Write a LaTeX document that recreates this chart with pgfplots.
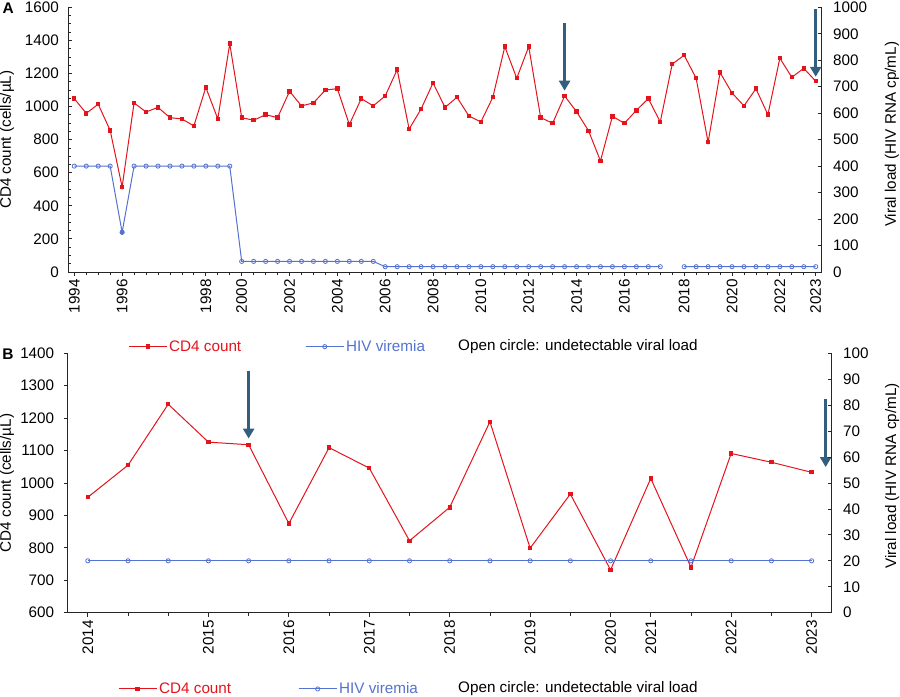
\documentclass[border=0pt]{standalone}
\usepackage{fontspec}
\setmainfont{Liberation Sans}
\usepackage{pgfplots}
\pgfplotsset{compat=1.18}
\usetikzlibrary{arrows.meta}
\definecolor{cd4red}{RGB}{228,20,28}
\definecolor{hivblue}{RGB}{84,114,208}
\definecolor{arrowc}{RGB}{52,94,125}
\newcommand{\fs}{\fontsize{15.3}{18}\selectfont}

\pgfplotsset{
  base/.style={scale only axis, clip=false, font=\fs,
    tick label style={font=\fs},
    /pgf/number format/assume math mode=true,
    /pgf/number format/1000 sep={},
    axis line style={line width=0.9bp, black!85},
    major tick length=4bp, minor tick length=3bp,
    every tick/.style={line width=0.8bp, black!85},
    legend style={draw=none, fill=none, font=\fs, nodes={inner xsep=2bp, inner ysep=1bp}},
    legend columns=2,
    legend image code/.code={\draw[mark repeat=2,mark phase=2,##1] plot coordinates {(0bp,0bp) (19bp,0bp) (38bp,0bp)};},
  },
  redline/.style={cd4red, line width=1bp, mark=square*, mark size=1.7bp, mark options={solid, fill=cd4red}},
  blueline/.style={hivblue, line width=1bp, mark=o, mark size=2.1bp, mark options={solid, fill=white, line width=0.8bp}},
}

\begin{document}
\begin{tikzpicture}[x=1bp,y=1bp]
\useasboundingbox (0,0) rectangle (900,697);

% ---------------- Panel A ----------------
\begin{axis}[base, at={(68.3bp,425bp)}, anchor=south west, width=753.4bp, height=264.7bp,
  xmin=-0.5, xmax=62.5, ymin=0, ymax=1600,
  axis x line*=bottom, axis y line=none,
  xtick={0,4,11,14,18,22,26,30,34,38,42,46,51,55,59,62},
  xticklabels={1994,1996,1998,2000,2002,2004,2006,2008,2010,2012,2014,2016,2018,2020,2022,2023},
  minor xtick={0,...,62},
  xticklabel style={rotate=90, anchor=east},
  tick align=outside,
]
\addplot[redline] coordinates {
(0,1048)(1,959)(2,1014)(3,856)(4,514)(5,1022)(6,967)(7,995)(8,933)(9,925)
(10,883)(11,1116)(12,925)(13,1380)(14,933)(15,917)(16,951)(17,933)(18,1092)(19,1004)
(20,1022)(21,1100)(22,1108)(23,891)(24,1048)(25,1004)(26,1064)(27,1223)(28,864)(29,985)
(30,1143)(31,995)(32,1056)(33,943)(34,907)(35,1056)(36,1362)(37,1171)(38,1362)(39,933)
(40,899)(41,1064)(42,969)(43,854)(44,671)(45,941)(46,899)(47,977)(48,1048)(49,907)
(50,1257)(51,1310)(52,1171)(53,784)(54,1205)(55,1082)(56,1004)(57,1108)(58,951)(59,1292)
(60,1177)(61,1231)(62,1153)};
\draw[arrowc, line width=2.8bp, -{Triangle[width=11bp,length=10bp]}] (axis cs:41,1503) -- (axis cs:41,1096);
\draw[arrowc, line width=2.8bp, -{Triangle[width=11bp,length=10bp]}] (axis cs:62,1590) -- (axis cs:62,1180);
\end{axis}

\begin{axis}[base, at={(68.3bp,425bp)}, anchor=south west, width=753.4bp, height=264.7bp,
  xmin=-0.5, xmax=62.5, ymin=0, ymax=1600,
  axis x line=none, axis y line*=left,
  ytick={0,200,...,1600}, minor ytick={0,50,...,1600},
  tick align=inside,
  yticklabel style={xshift=-6bp},
  every axis y label/.style={at={(axis description cs:-0.0814,0.5)}, rotate=90, anchor=center},
  ylabel={CD4 count (cells/µL)},
]
\end{axis}

\begin{axis}[base, at={(68.3bp,425bp)}, anchor=south west, width=753.4bp, height=264.7bp,
  xmin=-0.5, xmax=62.5, ymin=0, ymax=1000,
  axis x line=none, axis y line*=right,
  ytick={0,100,...,1000},
  tick align=inside,
  yticklabel style={xshift=8bp},
  every axis y label/.style={at={(axis description cs:1.0933,0.52)}, rotate=90, anchor=center},
  ylabel={Viral load (HIV RNA cp/mL)},
  legend style={at={(axis description cs:0.0753,-0.282)}, anchor=west,
    /tikz/every even column/.append style={column sep=62bp}},
  unbounded coords=jump,
]
\addlegendimage{redline}
\addlegendentry{\textcolor{cd4red}{CD4 count}}
\addplot[blueline] coordinates {
(0,400)(1,400)(2,400)(3,400)(4,150)(5,400)(6,400)(7,400)(8,400)(9,400)
(10,400)(11,400)(12,400)(13,400)(14,40)(15,40)(16,40)(17,40)(18,40)(19,40)
(20,40)(21,40)(22,40)(23,40)(24,40)(25,40)(26,20)(27,20)(28,20)(29,20)
(30,20)(31,20)(32,20)(33,20)(34,20)(35,20)(36,20)(37,20)(38,20)(39,20)
(40,20)(41,20)(42,20)(43,20)(44,20)(45,20)(46,20)(47,20)(48,20)(49,20)
(50,nan)(51,20)(52,20)(53,20)(54,20)(55,20)(56,20)(57,20)(58,20)(59,20)
(60,20)(61,20)(62,20)};
\addlegendentry{\textcolor{hivblue}{HIV viremia}}
\addplot[hivblue, only marks, mark=*, mark size=2.1bp, forget plot] coordinates {(4,150)};
\end{axis}

% ---------------- Panel B ----------------
\begin{axis}[base, at={(67.7bp,84.3bp)}, anchor=south west, width=764bp, height=259.4bp,
  xmin=-0.5, xmax=18.5, ymin=600, ymax=1400,
  axis x line*=bottom, axis y line*=left,
  xtick={0,3,5,7,9,11,13,14,16,18},
  xticklabels={2014,2015,2016,2017,2018,2019,2020,2021,2022,2023},
  minor xtick={0,...,18},
  xticklabel style={rotate=90, anchor=east},
  ytick={600,700,...,1400},
  tick align=outside,
  yticklabel style={xshift=-6bp},
  every axis y label/.style={at={(axis description cs:-0.0795,0.5)}, rotate=90, anchor=center},
  ylabel={CD4 count (cells/µL)},
]
\addplot[redline] coordinates {
(0,956)(1,1055)(2,1243)(3,1126)(4,1118)(5,875)(6,1109)(7,1046)(8,822)(9,925)
(10,1189)(11,799)(12,966)(13,732)(14,1014)(15,740)(16,1091)(17,1064)(18,1033)};
\draw[arrowc, line width=2.8bp, -{Triangle[width=11bp,length=10bp]}] (axis cs:4,1346) -- (axis cs:4,1137);
\draw[arrowc, line width=2.8bp, -{Triangle[width=11bp,length=10bp]}] (axis cs:18.35,1258) -- (axis cs:18.35,1049);
\end{axis}

\begin{axis}[base, at={(67.7bp,84.3bp)}, anchor=south west, width=764bp, height=259.4bp,
  xmin=-0.5, xmax=18.5, ymin=0, ymax=100,
  axis x line=none, axis y line*=right,
  ytick={0,10,...,100},
  tick align=inside,
  yticklabel style={xshift=8bp},
  every axis y label/.style={at={(axis description cs:1.079,0.527)}, rotate=90, anchor=center},
  ylabel={Viral load (HIV RNA cp/mL)},
  legend style={at={(axis description cs:0.0619,-0.294)}, anchor=west,
    /tikz/every even column/.append style={column sep=65bp}},
]
\addlegendimage{redline}
\addlegendentry{\textcolor{cd4red}{CD4 count}}
\addplot[blueline] coordinates {
(0,20)(1,20)(2,20)(3,20)(4,20)(5,20)(6,20)(7,20)(8,20)(9,20)
(10,20)(11,20)(12,20)(13,20)(14,20)(15,20)(16,20)(17,20)(18,20)};
\addlegendentry{\textcolor{hivblue}{HIV viremia}}
\end{axis}

% texts
\node[anchor=west, inner sep=0pt, font=\fs] at (458,350.3) {Open circle: undetectable viral load};
\node[anchor=west, inner sep=0pt, font=\fs] at (458,8) {Open circle: undetectable viral load};
\node[font=\bfseries\fontsize{15.5}{18}\selectfont, inner sep=0pt] at (8.3,689) {A};
\node[font=\bfseries\fontsize{15.5}{18}\selectfont, inner sep=0pt] at (8,343.2) {B};
\end{tikzpicture}
\end{document}
